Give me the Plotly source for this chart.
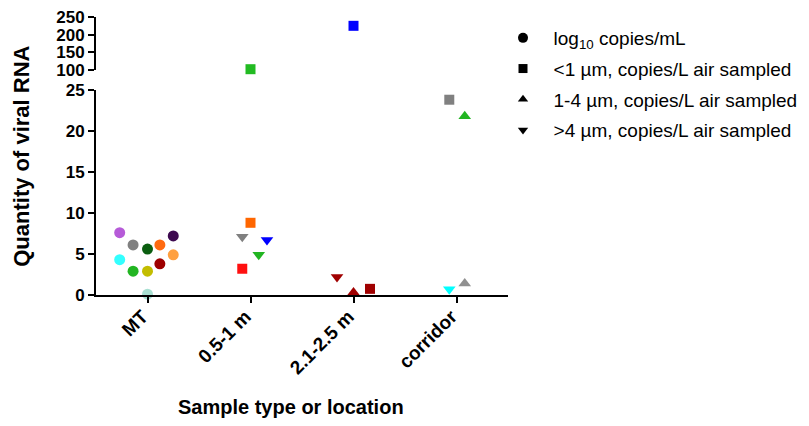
import plotly.graph_objects as go

categories = ["MT", "0.5-1 m", "2.1-2.5 m", "corridor"]

# log10 copies/mL (circles) – MT samples
mt_values = [7.6, 6.1, 5.6, 6.1, 7.2, 4.3, 4.9, 2.9, 2.9, 3.8, 0.1]
mt_colors = ["#b65bd8", "#808080", "#0b5e10", "#ff6a10", "#3e0a50", "#33ffff",
             "#ffa040", "#22b522", "#c3bd00", "#9e0000", "#a8e0d2"]
mt_offsets = [-0.27, -0.14, 0.0, 0.12, 0.25, -0.27, 0.25, -0.14, 0.0, 0.12, 0.0]

# <1 µm, copies/L air sampled (squares)
sq_locations = ["0.5-1 m", "0.5-1 m", "0.5-1 m", "2.1-2.5 m", "2.1-2.5 m", "corridor"]
sq_values = [8.8, 3.2, 102, 225, 0.75, 23.8]
sq_colors = ["#ff6600", "#ff1010", "#22bb22", "#0000ff", "#a00000", "#808080"]
sq_offsets = [0.0, -0.08, 0.0, 0.0, 0.16, -0.07]

# 1-4 µm, copies/L air sampled (up triangles)
up_locations = ["2.1-2.5 m", "corridor", "corridor"]
up_values = [0.3, 21.8, 1.4]
up_colors = ["#a00000", "#22b522", "#909090"]
up_offsets = [0.0, 0.08, 0.08]

# >4 µm, copies/L air sampled (down triangles)
dn_locations = ["0.5-1 m", "0.5-1 m", "0.5-1 m", "2.1-2.5 m", "corridor"]
dn_values = [7.1, 6.7, 4.9, 2.2, 0.7]
dn_colors = ["#808080", "#0000ff", "#22b522", "#a00000", "#00ffff"]
dn_offsets = [-0.08, 0.16, 0.08, -0.16, -0.07]

series_names = ["log<sub>10</sub> copies/mL",
                "<1 µm, copies/L air sampled",
                "1-4 µm, copies/L air sampled",
                ">4 µm, copies/L air sampled"]

BREAK_LOW, BREAK_HIGH = 25, 100
FONT = "Liberation Sans, Arial, sans-serif"
NBSP = "\u00a0"

fig = go.Figure()


def add_series(locations, values, colors, offsets, symbol, size):
    lo = [[], [], []]
    hi = [[], [], []]
    for loc, v, c, o in zip(locations, values, colors, offsets):
        x = categories.index(loc) + o
        tgt = hi if v > BREAK_LOW else lo
        tgt[0].append(x)
        tgt[1].append(v)
        tgt[2].append(c)
    for (xs, ys, cs), ax in ((lo, "y"), (hi, "y2")):
        if xs:
            fig.add_trace(go.Scatter(
                x=xs, y=ys, yaxis=ax, mode="markers", showlegend=False,
                cliponaxis=False, hoverinfo="skip",
                marker=dict(symbol=symbol, size=size, color=cs, line=dict(width=0))))


add_series(["MT"] * len(mt_values), mt_values, mt_colors, mt_offsets, "circle", 11)
add_series(sq_locations, sq_values, sq_colors, sq_offsets, "square", 10)
add_series(up_locations, up_values, up_colors, up_offsets, "triangle-up", 11)
add_series(dn_locations, dn_values, dn_colors, dn_offsets, "triangle-down", 11)

# legend entries (black symbols)
for name, sym, sz in zip(series_names,
                         ["circle", "square", "triangle-up", "triangle-down"],
                         [10, 9, 9, 9]):
    fig.add_trace(go.Scatter(x=[None], y=[None], mode="markers",
                             name=NBSP * 2 + name, legendgroup=name,
                             marker=dict(symbol=sym, size=sz, color="black")))

# page body has an 8px offset; figure coords = screen coords - 8
top_px, bottom_px = 9, 287.5
W, H = 809, 426
plot_h = bottom_px - top_px
low_top = (bottom_px - 82) / plot_h
up_bot = (bottom_px - 62) / plot_h
left_px, right_px = 88, 500
plot_w = right_px - left_px

axis_common = dict(showline=True, linecolor="black", linewidth=2, ticks="outside",
                   ticklen=6, tickwidth=2, tickcolor="black", showgrid=False,
                   zeroline=False, ticklabeloverflow="allow",
                   tickfont=dict(family=FONT, size=17, color="black", weight="bold"))

fig.update_layout(
    width=W, height=H,
    margin=dict(l=left_px, r=W - right_px, t=top_px, b=H - bottom_px, autoexpand=False),
    plot_bgcolor="white", paper_bgcolor="white",
    xaxis=dict(range=[-0.5, 3.5], tickvals=list(range(len(categories))),
               ticktext=categories, tickangle=-45, showline=True, linecolor="black",
               linewidth=2, ticks="outside", ticklen=6, tickwidth=2,
               tickcolor="black", showgrid=False, zeroline=False,
               ticklabelstandoff=-5, ticklabelshift=-5,
               tickfont=dict(family=FONT, size=19, color="black", weight="bold")),
    yaxis=dict(domain=[0, low_top], range=[0, 25], tickvals=[0, 5, 10, 15, 20, 25],
               **axis_common),
    yaxis2=dict(domain=[up_bot, 1], range=[100, 250], tickvals=[100, 150, 200, 250],
                anchor="x", **axis_common),
    legend=dict(x=(495 - left_px) / plot_w, y=1.0 - 2 / plot_h, xanchor="left",
                yanchor="top",
                font=dict(family=FONT, size=19, color="black"),
                tracegroupgap=3, itemwidth=30, bgcolor="rgba(0,0,0,0)"),
    showlegend=True,
    annotations=[
        dict(text="Quantity of viral RNA", xref="paper", yref="paper",
             x=(14 - left_px) / plot_w, y=(bottom_px - 149) / plot_h, textangle=-90,
             showarrow=False, xanchor="center", yanchor="middle",
             font=dict(family=FONT, size=22, color="black", weight="bold")),
        dict(text="Sample type or location", xref="paper", yref="paper",
             x=(283 - left_px) / plot_w, y=(bottom_px - 400) / plot_h,
             showarrow=False, xanchor="center", yanchor="middle",
             font=dict(family=FONT, size=20, color="black", weight="bold")),
    ],
)

fig.write_html("out.html")
